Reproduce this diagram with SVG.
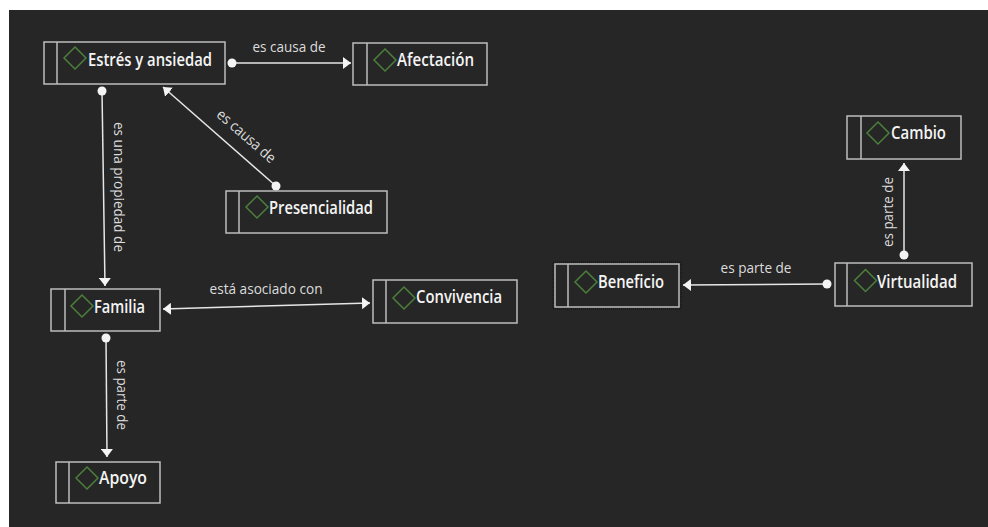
<svg xmlns="http://www.w3.org/2000/svg" width="988" height="527" viewBox="0 0 988 527">
<defs>
<style>
.box{fill:#262626;stroke:#bdbdbd;stroke-width:1.5}
.div{stroke:#bdbdbd;stroke-width:1.5}
.dia{fill:none;stroke:#4b7f3a;stroke-width:1.5}
.nt{font-family:"Open Sans","Noto Sans",sans-serif;font-weight:600;font-size:17.5px;fill:#f4f4f4}
.lt{font-family:"Open Sans","Noto Sans",sans-serif;font-size:15px;fill:#dcdcdc}
.con{stroke:#e6e6e6;stroke-width:1.5;fill:none;marker-start:url(#dot);marker-end:url(#arr)}
</style>
<marker id="arr" viewBox="0 0 8 12" refX="8" refY="6" markerWidth="8" markerHeight="12" markerUnits="userSpaceOnUse" orient="auto-start-reverse">
<path d="M0,0 L8,6 L0,12 z" fill="#f4f4f4"/>
</marker>
<marker id="dot" viewBox="0 0 10 10" refX="5" refY="5" markerWidth="10" markerHeight="10" markerUnits="userSpaceOnUse">
<circle cx="5" cy="5" r="4.5" fill="#f4f4f4"/>
</marker>
</defs>
<rect x="0" y="0" width="988" height="527" fill="#ffffff"/>
<rect x="9" y="10" width="979" height="517" fill="#262626"/>

<g id="connectors">
<path class="con" d="M232,63 L351,63"/>
<path class="con" d="M276,186 L163,87"/>
<path class="con" d="M102,91 L105,286"/>
<path class="con" style="marker-start:url(#arr)" d="M163,309 L370,303"/>
<path class="con" d="M106,338 L107,457"/>
<path class="con" d="M827,284 L683,285"/>
<path class="con" d="M904,255 L904,163"/>
<text class="lt" x="289" y="52" text-anchor="middle" textLength="73" lengthAdjust="spacingAndGlyphs">es causa de</text>
<text class="lt" transform="translate(243,140) rotate(41)" text-anchor="middle" textLength="73" lengthAdjust="spacingAndGlyphs">es causa de</text>
<text class="lt" transform="translate(114,187) rotate(90)" text-anchor="middle" textLength="130" lengthAdjust="spacingAndGlyphs">es una propiedad de</text>
<text class="lt" x="266" y="294" text-anchor="middle" textLength="113" lengthAdjust="spacingAndGlyphs">está asociado con</text>
<text class="lt" transform="translate(117,395) rotate(90)" text-anchor="middle" textLength="70" lengthAdjust="spacingAndGlyphs">es parte de</text>
<text class="lt" x="756" y="273" text-anchor="middle" textLength="71" lengthAdjust="spacingAndGlyphs">es parte de</text>
<text class="lt" transform="translate(893,212) rotate(-90)" text-anchor="middle" textLength="70" lengthAdjust="spacingAndGlyphs">es parte de</text>
</g>

<g id="estres">
<rect class="box" x="44" y="42" width="181" height="42"/>
<line class="div" x1="57" y1="42" x2="57" y2="84"/>
<path class="dia" d="M75,47 L86,58 L75,69 L64,58 z"/>
<text class="nt" x="88" y="66" textLength="124" lengthAdjust="spacingAndGlyphs">Estrés y ansiedad</text>
</g>

<g id="afectacion">
<rect class="box" x="353" y="43" width="134" height="42"/>
<line class="div" x1="367" y1="43" x2="367" y2="85"/>
<path class="dia" d="M385,49 L396,60 L385,71 L374,60 z"/>
<text class="nt" x="397" y="66" textLength="77" lengthAdjust="spacingAndGlyphs">Afectación</text>
</g>

<g id="presencialidad">
<rect class="box" x="226" y="191" width="161" height="42"/>
<line class="div" x1="239" y1="191" x2="239" y2="233"/>
<path class="dia" d="M257,196 L268,207 L257,218 L246,207 z"/>
<text class="nt" x="269" y="214" textLength="104" lengthAdjust="spacingAndGlyphs">Presencialidad</text>
</g>

<g id="familia">
<rect class="box" x="51" y="289" width="109" height="42"/>
<line class="div" x1="65" y1="289" x2="65" y2="331"/>
<path class="dia" d="M82,295 L93,306 L82,317 L71,306 z"/>
<text class="nt" x="94" y="313" textLength="51" lengthAdjust="spacingAndGlyphs">Familia</text>
</g>

<g id="convivencia">
<rect class="box" x="373" y="280" width="144" height="43"/>
<line class="div" x1="386" y1="280" x2="386" y2="323"/>
<path class="dia" d="M404,287 L415,298 L404,309 L393,298 z"/>
<text class="nt" x="416" y="303" textLength="86" lengthAdjust="spacingAndGlyphs">Convivencia</text>
</g>

<g id="apoyo">
<rect class="box" x="56" y="462" width="104" height="41"/>
<line class="div" x1="69" y1="462" x2="69" y2="503"/>
<path class="dia" d="M87,467 L98,478 L87,489 L76,478 z"/>
<text class="nt" x="99" y="484" textLength="48" lengthAdjust="spacingAndGlyphs">Apoyo</text>
</g>

<g id="beneficio">
<rect x="553" y="262" width="128" height="47" fill="none" stroke="#111111" stroke-width="1" stroke-dasharray="1,1"/>
<rect class="box" x="555" y="264" width="124" height="43"/>
<line class="div" x1="568" y1="264" x2="568" y2="307"/>
<path class="dia" d="M586,271 L597,282 L586,293 L575,282 z"/>
<text class="nt" x="598" y="288" textLength="66" lengthAdjust="spacingAndGlyphs">Beneficio</text>
</g>

<g id="virtualidad">
<rect class="box" x="835" y="263" width="137" height="43"/>
<line class="div" x1="847" y1="263" x2="847" y2="306"/>
<path class="dia" d="M865.5,269.5 L876.5,280.5 L865.5,291.5 L854.5,280.5 z"/>
<text class="nt" x="877" y="288" textLength="80" lengthAdjust="spacingAndGlyphs">Virtualidad</text>
</g>

<g id="cambio">
<rect class="box" x="847" y="116" width="114" height="43"/>
<line class="div" x1="861" y1="116" x2="861" y2="159"/>
<path class="dia" d="M878,122 L889,133 L878,144 L867,133 z"/>
<text class="nt" x="891" y="139" textLength="55" lengthAdjust="spacingAndGlyphs">Cambio</text>
</g>
</svg>
